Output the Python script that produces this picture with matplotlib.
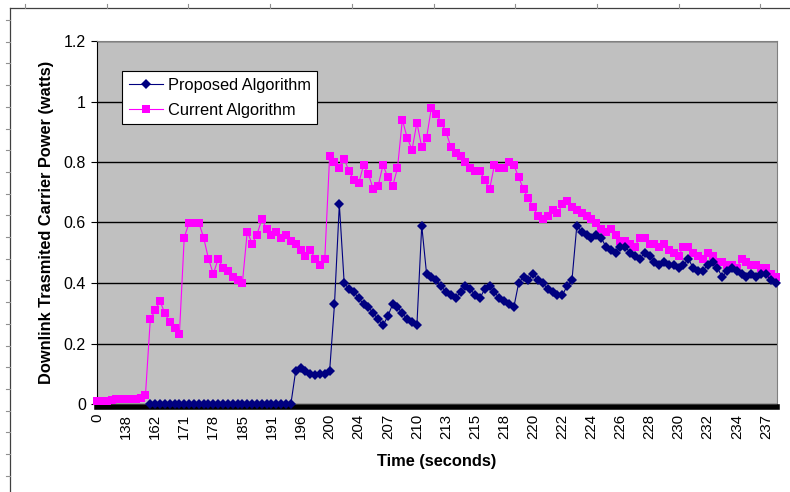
import matplotlib
matplotlib.use('Agg')
import matplotlib.pyplot as plt
from matplotlib.lines import Line2D
import numpy as np

# 类别轴标签 (每6个采样点一个标签)
tick_labels = ['0', '138', '162', '171', '178', '185', '191', '196', '200', '204',
               '207', '210', '213', '215', '218', '220', '222', '224', '226', '228',
               '230', '232', '234', '237']
points_per_label = 6

# Current Algorithm (粉色)
current = [
    0.01, 0.01, 0.01, 0.012, 0.015, 0.015, 0.015, 0.015, 0.015, 0.02,
    0.03, 0.28, 0.31, 0.34, 0.30, 0.27, 0.25, 0.23, 0.55, 0.60,
    0.60, 0.60, 0.55, 0.48, 0.43, 0.48, 0.45, 0.44, 0.42, 0.41,
    0.40, 0.57, 0.53, 0.56, 0.61, 0.58, 0.56, 0.57, 0.55, 0.56,
    0.54, 0.53, 0.51, 0.49, 0.51, 0.48, 0.46, 0.48, 0.82, 0.80,
    0.78, 0.81, 0.77, 0.74, 0.73, 0.79, 0.76, 0.71, 0.72, 0.79,
    0.75, 0.72, 0.78, 0.94, 0.88, 0.84, 0.93, 0.85, 0.88, 0.98,
    0.96, 0.93, 0.90, 0.85, 0.83, 0.82, 0.80, 0.78, 0.77, 0.77,
    0.74, 0.71, 0.79, 0.78, 0.78, 0.80, 0.79, 0.75, 0.71, 0.68,
    0.65, 0.62, 0.61, 0.62, 0.64, 0.63, 0.66, 0.67, 0.65, 0.64,
    0.63, 0.62, 0.61, 0.60, 0.58, 0.57, 0.58, 0.56, 0.54, 0.54,
    0.53, 0.52, 0.55, 0.55, 0.53, 0.53, 0.52, 0.53, 0.51, 0.50,
    0.49, 0.52, 0.52, 0.50, 0.49, 0.48, 0.50, 0.49, 0.47, 0.47,
    0.46, 0.46, 0.45, 0.48, 0.47, 0.46, 0.46, 0.45, 0.45, 0.43,
    0.42,
]

# Proposed Algorithm (深蓝), 前11个点没有数据
proposed = [np.nan] * 11 + [
    0.0, 0.0, 0.0, 0.0, 0.0, 0.0, 0.0, 0.0, 0.0, 0.0,
    0.0, 0.0, 0.0, 0.0, 0.0, 0.0, 0.0, 0.0, 0.0, 0.0,
    0.0, 0.0, 0.0, 0.0, 0.0, 0.0, 0.0, 0.0, 0.0, 0.0,
    0.11, 0.12, 0.11, 0.10, 0.095, 0.10, 0.10, 0.11, 0.33, 0.66,
    0.40, 0.38, 0.37, 0.35, 0.33, 0.32, 0.30, 0.28, 0.26, 0.29,
    0.33, 0.32, 0.30, 0.28, 0.27, 0.26, 0.59, 0.43, 0.42, 0.41,
    0.39, 0.37, 0.36, 0.35, 0.37, 0.39, 0.38, 0.36, 0.35, 0.38,
    0.39, 0.37, 0.35, 0.34, 0.33, 0.32, 0.40, 0.42, 0.41, 0.43,
    0.41, 0.40, 0.38, 0.37, 0.36, 0.36, 0.39, 0.41, 0.59, 0.57,
    0.56, 0.55, 0.56, 0.55, 0.52, 0.51, 0.50, 0.52, 0.52, 0.50,
    0.49, 0.48, 0.50, 0.49, 0.47, 0.46, 0.47, 0.46, 0.46, 0.45,
    0.46, 0.48, 0.45, 0.44, 0.44, 0.46, 0.47, 0.45, 0.42, 0.44,
    0.45, 0.44, 0.43, 0.42, 0.43, 0.42, 0.43, 0.43, 0.41, 0.40,
]

W, H = 790, 492
plt.rcParams['font.family'] = ['Liberation Sans', 'DejaVu Sans']

fig = plt.figure(figsize=(W / 100, H / 100), dpi=100)
fig.patch.set_facecolor('white')

# 绘图区域位置 (像素换算)
left, right, top, bottom = 97, 777, 41, 404
ax = fig.add_axes([left / W, 1 - bottom / H, (right - left) / W, (bottom - top) / H])
ax.set_facecolor('#C0C0C0')

# 边框 (先设置位置, 否则会重置刻度)
for s in ['top', 'right']:
    ax.spines[s].set_color('#808080')
    ax.spines[s].set_linewidth(0.8)
ax.spines['left'].set_color('black')
ax.spines['left'].set_linewidth(0.8)
ax.spines['bottom'].set_position(('outward', 2))
ax.spines['bottom'].set_color('black')
ax.spines['bottom'].set_linewidth(4)
ax.spines['bottom'].set_zorder(2.5)

x = np.arange(len(current))
ax.plot(x, current, color='#FF00FF', linewidth=0.8, marker='s', markersize=6.4,
        markeredgewidth=0, label='Current Algorithm', zorder=3, clip_on=False)
ax.plot(np.arange(len(proposed)), proposed, color='#000080', linewidth=0.8, marker='D',
        markersize=5.6, markeredgewidth=0, label='Proposed Algorithm', zorder=4,
        clip_on=False)

ax.set_ylim(0, 1.2)
ax.set_xlim(0, len(current) - 1 + 0.3)
ax.set_yticks(np.arange(0, 1.21, 0.2))
ax.set_yticklabels(['0', '0.2', '0.4', '0.6', '0.8', '1', '1.2'], fontsize=11.5)
ax.set_xticks(np.arange(len(tick_labels)) * points_per_label)
ax.set_xticklabels(tick_labels, rotation=90, fontsize=10.8)
ax.tick_params(axis='x', length=0, pad=5)
ax.tick_params(axis='y', length=4, width=0.8, color='black', pad=4)

# 网格线
ax.yaxis.grid(True, color='black', linewidth=1.0)
ax.set_axisbelow(True)

ax.set_xlabel('Time (seconds)', fontsize=11.8, fontweight='bold', labelpad=11)
ax.set_ylabel('Downlink Trasmited Carrier Power (watts)', fontsize=11.8,
              fontweight='bold', labelpad=7)

# 图例
handles, labels = ax.get_legend_handles_labels()
leg = ax.legend(handles[::-1], labels[::-1], loc='upper left',
                bbox_to_anchor=(0.0368, 0.917), fontsize=11.8, frameon=True,
                fancybox=False, edgecolor='black', framealpha=1, borderaxespad=0,
                handlelength=2.1, handletextpad=0.3, labelspacing=0.6,
                borderpad=0.4)
leg.get_frame().set_linewidth(0.8)
leg.set_zorder(6)

# 外框和刻度 (页面边框)
def fx(px):
    return px / W

def fy(py):
    return 1 - py / H

frame_color = '#404040'
fig.add_artist(Line2D([fx(10), fx(790)], [fy(8), fy(8)], color=frame_color, linewidth=0.9,
                      transform=fig.transFigure))
fig.add_artist(Line2D([fx(10), fx(10)], [fy(8), fy(492)], color=frame_color, linewidth=0.9,
                      transform=fig.transFigure))
for tx in np.arange(25, 790, 81.7):
    fig.add_artist(Line2D([fx(tx), fx(tx)], [fy(8), fy(4)], color='#909090', linewidth=0.8,
                          transform=fig.transFigure))
for ty in np.arange(20, 492, 21.7):
    fig.add_artist(Line2D([fx(10), fx(6)], [fy(ty), fy(ty)], color='#909090', linewidth=0.8,
                          transform=fig.transFigure))

fig.savefig('out.png', dpi=100)
